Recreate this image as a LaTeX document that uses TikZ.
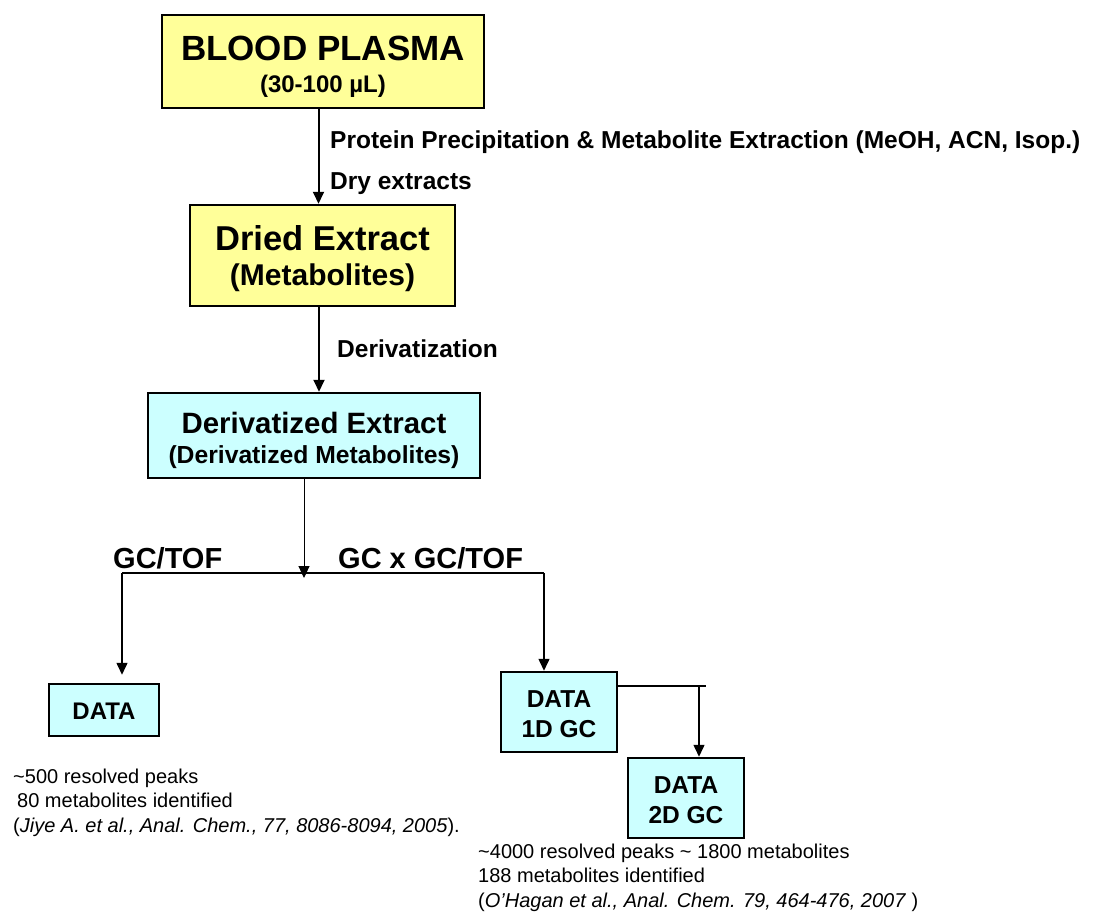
\documentclass[tikz,border=0pt]{standalone}
\usepackage{fontspec}
\setmainfont{Liberation Sans}
\usetikzlibrary{arrows.meta}
\definecolor{boxyellow}{HTML}{FFFF99}
\definecolor{boxcyan}{HTML}{CCFFFF}
\newcommand\twoline[2]{\vtop{\halign{\hfil##\hfil\cr #1\cr #2\cr}}}
\newcommand\leftlines[3]{\vtop{\halign{##\hfil\cr #1\cr #2\cr #3\cr}}}
\newcommand\fs[1]{\fontsize{#1}{#1}\selectfont}
\tikzset{
  stage/.style={draw=black, line width=2.5pt, inner sep=0pt},
  ybox/.style={stage, fill=boxyellow},
  cbox/.style={stage, fill=boxcyan},
  flow/.style={line width=2pt, -{Triangle[length=12pt,width=11pt]}},
  thinflow/.style={line width=1.5pt, -{Triangle[length=12pt,width=11pt]}},
  steplabel/.style={anchor=base west, inner sep=0pt, font=\fs{24.5}\bfseries},
  branchlabel/.style={anchor=base west, inner sep=0pt, font=\fs{29}\bfseries},
  note/.style={anchor=base west, inner sep=0pt, font=\fontsize{20}{24.5}\selectfont},
}
\begin{document}
\begin{tikzpicture}[x=1pt, y=-1pt]
\useasboundingbox (0,0) rectangle (1093,921);
% boxes
\node[ybox, minimum width=322pt, minimum height=93pt, text height=30pt, text depth=33pt,
      font=\fontsize{35}{32}\selectfont\bfseries] (plasma) at (323,61.5)
  {\twoline{\fs{35}BLOOD PLASMA}{\fs{24}(30-100 µL)}};
\node[ybox, minimum width=265pt, minimum height=101pt, text height=30pt, text depth=41pt,
      font=\fontsize{34}{35}\selectfont\bfseries] (dried) at (322.5,255.5)
  {\twoline{\fs{34.5}Dried Extract}{\fs{30}(Metabolites)}};
\node[cbox, minimum width=332pt, minimum height=85pt, text height=25pt, text depth=30pt,
      font=\fontsize{29}{30}\selectfont\bfseries] (deriv) at (314,435.5)
  {\twoline{\fs{29.4}Derivatized Extract}{\fs{24.7}(Derivatized Metabolites)}};
\node[cbox, minimum width=110pt, minimum height=52pt, text height=18pt, text depth=0pt,
      font=\fs{24}\bfseries] (dataA) at (104,710) {DATA};
\node[cbox, minimum width=116pt, minimum height=80pt, text height=18pt, text depth=28pt,
      font=\fontsize{24.5}{30}\selectfont\bfseries] (data1) at (559,712)
  {\twoline{DATA}{1D GC}};
\node[cbox, minimum width=116pt, minimum height=80pt, text height=18pt, text depth=28pt,
      font=\fontsize{24.5}{30}\selectfont\bfseries] (data2) at (686,798)
  {\twoline{DATA}{2D GC}};
% step labels
\node[steplabel] (lprot) at (330,148) {Protein Precipitation \& Metabolite Extraction (MeOH, ACN, Isop.)};
\node[steplabel] (ldry) at (330,189) {Dry extracts};
\node[steplabel] (lder) at (337,357) {Derivatization};
\node[branchlabel] (lgc) at (113,568) {GC/TOF};
\node[branchlabel] (lgcgc) at (338,568) {GC x GC/TOF};
% notes
\node[note] (noteA) at (13,783) {\leftlines{\string~500 resolved peaks}{\kern4pt 80 metabolites identified}{(\textit{Jiye A. et al., Anal. Chem., 77, 8086-8094, 2005}).}};
\node[note] (noteB) at (478,858) {\leftlines{\string~4000 resolved peaks \string~ 1800 metabolites}{188 metabolites identified}{(\textit{O’Hagan et al., Anal. Chem. 79, 464-476, 2007} )}};
% connectors
\coordinate (c1) at (318.5,0);
\draw[flow] (c1 |- plasma.south) -- (c1 |- dried.north);
\coordinate (c2) at (319,0);
\draw[flow] (c2 |- dried.south) -- (c2 |- deriv.north);
\coordinate (brL) at (122,573);
\coordinate (brR) at (544,573);
\coordinate (brM) at (304,578);
\draw[line width=1pt, -{Triangle[length=12pt,width=11pt]}] (brM |- deriv.south) -- (brM);
\draw[line width=1.5pt] (brL) -- (brR);
\draw[thinflow, shorten >=8pt] (brL) -- (brL |- dataA.north);
\draw[thinflow] (brR) -- (brR |- data1.north);
\coordinate (b2) at (699,686);
\draw[line width=1.5pt] (data1.east |- b2) -- ++(88,0);
\draw[thinflow] (b2) -- (b2 |- data2.north);
\end{tikzpicture}
\end{document}
